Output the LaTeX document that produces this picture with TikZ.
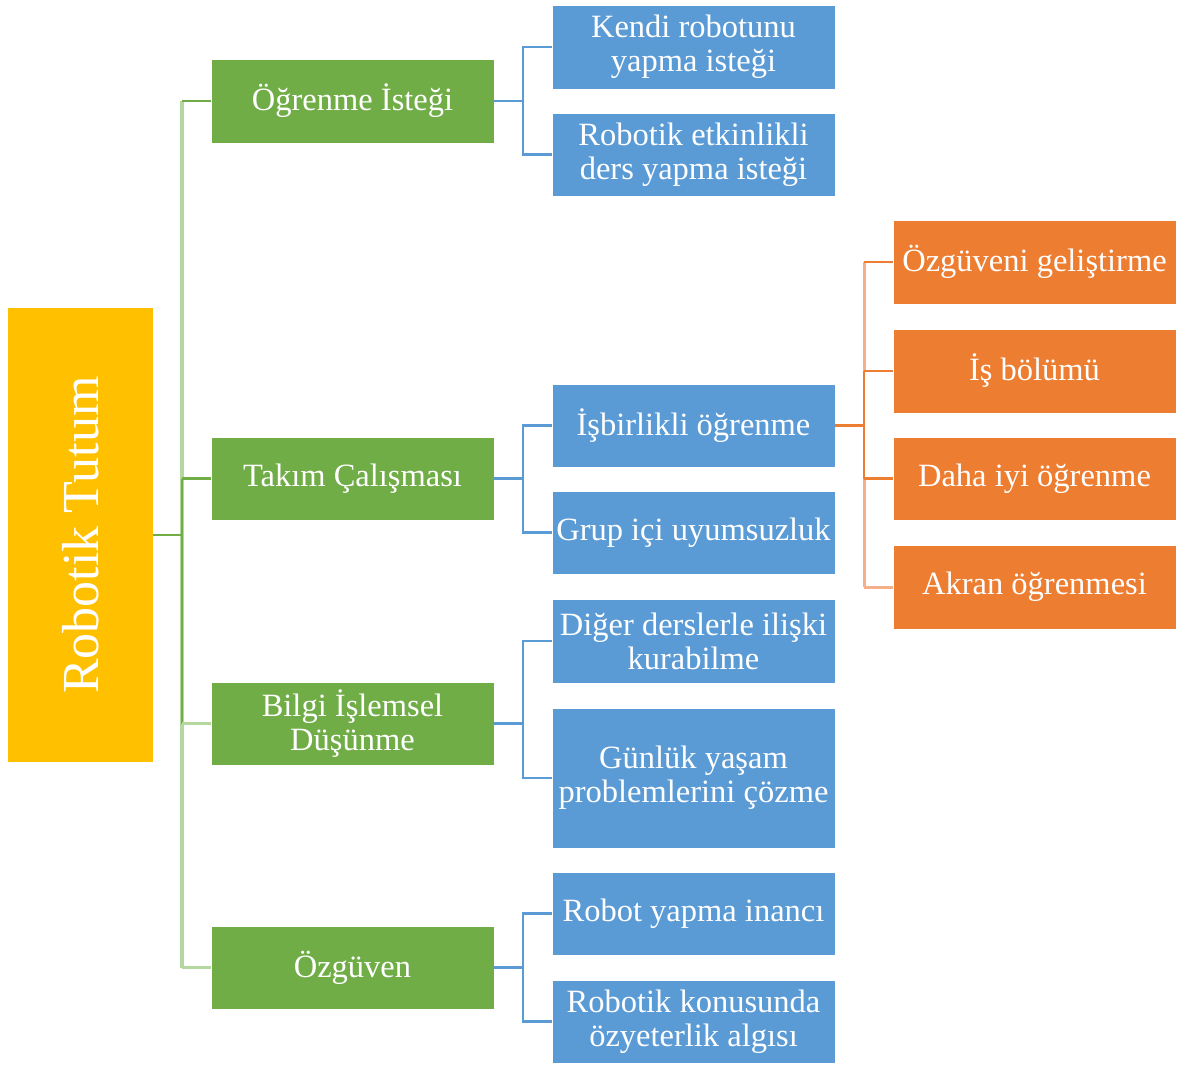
\documentclass[tikz,border=0pt]{standalone}
\usepackage{fontspec}
\setmainfont{Liberation Serif}
\definecolor{rootc}{HTML}{FFC000}
\definecolor{greenc}{HTML}{70AD47}
\definecolor{greenl}{HTML}{B5D7A0}
\definecolor{bluec}{HTML}{5B9BD5}
\definecolor{bluel}{HTML}{9DC3E6}
\definecolor{orangec}{HTML}{ED7D31}
\definecolor{orangel}{HTML}{F5B08A}
\begin{document}
\begin{tikzpicture}[x=1pt,y=-1pt,
  box/.style={minimum width=283pt, inner sep=0pt, text=white, align=center,
    font=\fontsize{32.5}{34}\selectfont, draw=white, line width=0.6pt},
  gbox/.style={box, fill=greenc},
  bbox/.style={box, fill=bluec},
  obox/.style={box, fill=orangec},
  gline/.style={draw=greenc, line width=2.8pt},
  glight/.style={draw=greenl, line width=3.2pt},
  bline/.style={draw=bluec, line width=2.4pt},
  oline/.style={draw=orangec, line width=2.6pt},
  olight/.style={draw=orangel, line width=3pt}]
\useasboundingbox (0,0) rectangle (1178,1066);

% root
\node[fill=rootc, minimum width=145pt, minimum height=454pt, inner sep=0pt] (root) at (80.5,535) {};
\node[rotate=90, text=white, font=\fontsize{52}{58}\selectfont] (roottxt) at (root.center) {Robotik Tutum};

% second level
\node[gbox, minimum height=84pt] (g1) at (352.5,101) {Öğrenme İsteği};
\node[gbox, minimum height=83pt] (g2) at (352.5,478.5) {Takım Çalışması};
\node[gbox, minimum height=83pt] (g3) at (352.5,723.5) {Bilgi İşlemsel\\Düşünme};
\node[gbox, minimum height=83pt] (g4) at (352.5,967.5) {Özgüven};

% third level
\node[bbox, minimum height=84pt] (b1) at (693.5,47) {Kendi robotunu\\yapma isteği};
\node[bbox, minimum height=83pt] (b2) at (693.5,154.5) {Robotik etkinlikli\\ders yapma isteği};
\node[bbox, minimum height=83pt] (b3) at (693.5,425.5) {İşbirlikli öğrenme};
\node[bbox, minimum height=83pt] (b4) at (693.5,532.5) {Grup içi uyumsuzluk};
\node[bbox, minimum height=84pt] (b5) at (693.5,641) {Diğer derslerle ilişki\\kurabilme};
\node[bbox, minimum height=140pt] (b6) at (693.5,778) {Günlük yaşam\\problemlerini çözme};
\node[bbox, minimum height=83pt] (b7) at (693.5,913.5) {Robot yapma inancı};
\node[bbox, minimum height=83pt] (b8) at (693.5,1021.5) {Robotik konusunda\\özyeterlik algısı};

% fourth level
\node[obox, minimum height=84pt] (o1) at (1034.5,262) {Özgüveni geliştirme};
\node[obox, minimum height=84pt] (o2) at (1034.5,371) {İş bölümü};
\node[obox, minimum height=83pt] (o3) at (1034.5,478.5) {Daha iyi öğrenme};
\node[obox, minimum height=84pt] (o4) at (1034.5,587) {Akran öğrenmesi};

% trunk from the root
\coordinate (t0) at (182,535);
\draw[glight] (t0 |- g1.west) -- (t0 |- g4.west);
\draw[gline] (t0 |- g2.west) -- (t0 |- g3.west);
\draw[gline] (root.east) -- (t0);
\draw[gline] (t0 |- g1.west) -- (g1.west);
\draw[gline] (t0 |- g2.west) -- (g2.west);
\draw[glight] (t0 |- g3.west) -- (g3.west);
\draw[glight] (t0 |- g4.west) -- (g4.west);

% green to blue branches
\coordinate (tb) at (523,0);
\foreach \g/\a/\b in {g1/b1/b2, g2/b3/b4, g3/b5/b6, g4/b7/b8}{
  \draw[bline] (\g.east) -- (tb |- \g.east);
  \draw[bline] (\a.west) -- (tb |- \a.west) -- (tb |- \b.west) -- (\b.west);
}

% blue to orange branch
\coordinate (to) at (864,0);
\draw[oline] (b3.east) -- (to |- b3.east);
\draw[olight] (to |- o1.west) -- (to |- o2.west);
\draw[olight] (to |- o3.west) -- (to |- o4.west);
\draw[oline] (to |- o2.west) -- (to |- o3.west);
\draw[oline] (to |- o1.west) -- (o1.west);
\draw[oline] (to |- o2.west) -- (o2.west);
\draw[oline] (to |- o3.west) -- (o3.west);
\draw[olight] (to |- o4.west) -- (o4.west);
\end{tikzpicture}
\end{document}
